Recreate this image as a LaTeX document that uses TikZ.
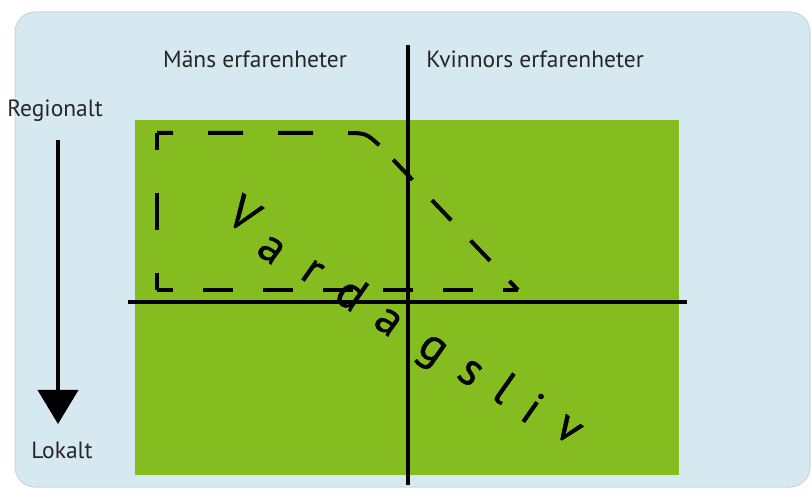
\documentclass[tikz,border=0pt]{standalone}
\usepackage{fontspec}
\setmainfont{PT Sans}
\newfontfamily\bigletters{PT Sans}[FakeBold=0.8]
\usetikzlibrary{arrows.meta}
\definecolor{bgblue}{RGB}{214,232,240}
\definecolor{bgedge}{RGB}{200,214,222}
\definecolor{grn}{RGB}{133,189,32}
\tikzset{
  axis/.style={line width=4pt,black},
  lab/.style={font=\fontsize{23.5}{26}\selectfont,text=black!85,inner sep=0pt,anchor=base},
  letter/.style={font=\bigletters\fontsize{47}{50}\selectfont,inner sep=0pt,rotate=-35},
  dashline/.style={line width=4pt}
}
\begin{document}
\begin{tikzpicture}[x=1pt,y=-1pt]
\useasboundingbox (0,0) rectangle (812,494);
\fill[white] (0,0) rectangle (812,494);
\draw[bgedge,fill=bgblue,line width=1pt,rounded corners=20pt] (15,12) rectangle (810,487);
\fill[grn] (135,120) rectangle (679,475);
% axes
\coordinate (vt) at (408,45);
\coordinate (vb) at (408,485);
\coordinate (hl) at (128,302);
\coordinate (hr) at (687,302);
\draw[axis] (vt) -- (vb);
\draw[axis] (hl) -- (hr);
% dashed region
\coordinate (d1) at (157,290);
\coordinate (d2) at (157,133);
\coordinate (d3) at (345,133);
\coordinate (d4) at (380,146);
\coordinate (d5) at (518,290);
\draw[dashline,dash pattern=on 37pt off 43pt,dash phase=20pt] (d1) -- (d2);
\draw[dashline,dash pattern=on 35pt off 35pt,dash phase=19pt] (d2) -- (d3) .. controls (366,133) .. (d4);
\draw[dashline,dash pattern=on 28pt off 28pt,dash phase=37pt] (d4) -- (d5);
\draw[dashline,dash pattern=on 30pt off 30pt,dash phase=15pt] (d5) -- (d1);
% labels
\node[lab] (mans) at (255,68) {Mäns erfarenheter};
\node[lab] (kvin) at (535,68) {Kvinnors erfarenheter};
\node[lab] (reg) at (55,117) {Regionalt};
\node[lab] (lok) at (62,458) {Lokalt};
\coordinate (at) at (58,140);
\coordinate (ab) at (58,424);
\draw[line width=4pt,-{Triangle[width=40pt,length=34pt]}] (at) -- (ab);
% Vardagsliv
\node[letter] (l1) at (244,214) {V};
\node[letter] (l2) at (271,250) {a};
\node[letter] (l3) at (312,272) {r};
\node[letter] (l4) at (352,293) {d};
\node[letter] (l5) at (388,322) {a};
\node[letter] (l6) at (430,353) {g};
\node[letter] (l7) at (470,373) {s};
\node[letter] (l8) at (505,388) {l};
\node[letter] (l9) at (533,408) {i};
\node[letter] (l10) at (568,430) {v};
\end{tikzpicture}
\end{document}
